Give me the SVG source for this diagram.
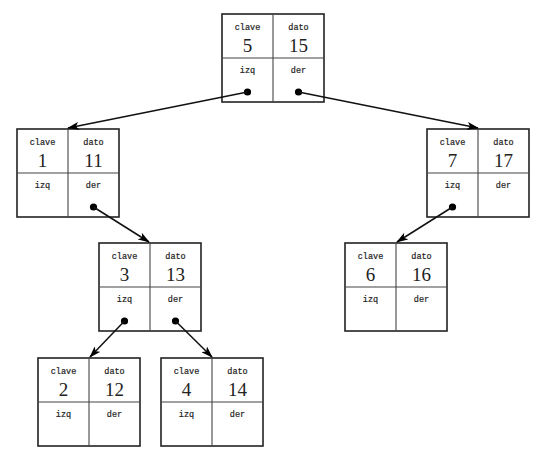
<svg xmlns="http://www.w3.org/2000/svg" width="540" height="461" viewBox="0 0 540 461">
<style>
.box{fill:#fff;stroke:#222;stroke-width:1.6}
.div{stroke:#444;stroke-width:1.1}
.lbl{font-family:"Liberation Mono","DejaVu Sans Mono",monospace;font-size:8.5px;fill:#222;stroke:#222;stroke-width:0.2;text-anchor:middle}
.num{font-family:"Liberation Serif","DejaVu Serif",serif;font-size:19px;fill:#222;text-anchor:middle}
.dot{fill:#000}
.edge{stroke:#111;stroke-width:1.5;fill:none;marker-end:url(#ah)}
</style>
<defs>
<marker id="ah" viewBox="0 0 12 8" refX="11" refY="4" markerWidth="12" markerHeight="8" markerUnits="userSpaceOnUse" orient="auto">
<path d="M0,0 L12,4 L0,8 L3,4 z" fill="#000"/>
</marker>
<g id="cell">
<rect class="box" x="0" y="0" width="102" height="88"/>
<line class="div" x1="51" y1="0" x2="51" y2="88"/>
<line class="div" x1="0" y1="44" x2="102" y2="44"/>
<text class="lbl" x="25.5" y="16">clave</text>
<text class="lbl" x="76.5" y="16">dato</text>
<text class="lbl" x="25.5" y="59">izq</text>
<text class="lbl" x="76.5" y="59">der</text>
</g>
</defs>
<g id="n5" transform="translate(222,14)">
<use href="#cell"/>
<text class="num" x="25.5" y="38">5</text>
<text class="num" x="76.5" y="38">15</text>
<circle class="dot" cx="25.5" cy="78" r="3.6"/>
<circle class="dot" cx="76.5" cy="78" r="3.6"/>
</g>
<g id="n1" transform="translate(17,129)">
<use href="#cell"/>
<text class="num" x="25.5" y="38">1</text>
<text class="num" x="76.5" y="38">11</text>
<circle class="dot" cx="76.5" cy="78" r="3.6"/>
</g>
<g id="n7" transform="translate(427,129)">
<use href="#cell"/>
<text class="num" x="25.5" y="38">7</text>
<text class="num" x="76.5" y="38">17</text>
<circle class="dot" cx="25.5" cy="78" r="3.6"/>
</g>
<g id="n3" transform="translate(99,243)">
<use href="#cell"/>
<text class="num" x="25.5" y="38">3</text>
<text class="num" x="76.5" y="38">13</text>
<circle class="dot" cx="25.5" cy="78" r="3.6"/>
<circle class="dot" cx="76.5" cy="78" r="3.6"/>
</g>
<g id="n6" transform="translate(345,243)">
<use href="#cell"/>
<text class="num" x="25.5" y="38">6</text>
<text class="num" x="76.5" y="38">16</text>
</g>
<g id="n2" transform="translate(38,358)">
<use href="#cell"/>
<text class="num" x="25.5" y="38">2</text>
<text class="num" x="76.5" y="38">12</text>
</g>
<g id="n4" transform="translate(161,358)">
<use href="#cell"/>
<text class="num" x="25.5" y="38">4</text>
<text class="num" x="76.5" y="38">14</text>
</g>
<g id="edges">
<line class="edge" x1="247.5" y1="92" x2="68" y2="128"/>
<line class="edge" x1="298.5" y1="92" x2="478" y2="128"/>
<line class="edge" x1="93.5" y1="207" x2="149" y2="242"/>
<line class="edge" x1="452.5" y1="207" x2="397" y2="242"/>
<line class="edge" x1="124.5" y1="321" x2="90" y2="357"/>
<line class="edge" x1="175.5" y1="321" x2="212" y2="357"/>
</g>
</svg>
